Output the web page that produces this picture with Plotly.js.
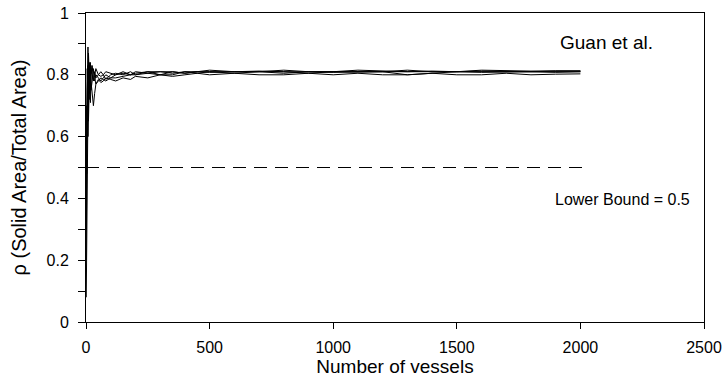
<!DOCTYPE html>
<html>
<head>
<meta charset="utf-8">
<script src="https://cdn.plot.ly/plotly-3.0.1.min.js"></script>
<style>html,body{margin:0;padding:0;background:#fff;}#chart{width:725px;height:379px;}</style>
</head>
<body>
<div id="chart"></div>
<script>
const vessels = [1,3,5,8,10,13,15,18,20,25,30,35,40,50,60,70,80,100,120,150,180,200,250,300,350,400,450,500,600,700,800,900,1000,1100,1200,1300,1400,1500,1600,1700,1800,1900,2000];
const run1 = [0.08,0.35,0.55,0.7,0.85,0.78,0.82,0.76,0.80,0.83,0.79,0.78,0.80,0.79,0.78,0.79,0.80,0.79,0.80,0.805,0.80,0.81,0.805,0.80,0.81,0.805,0.81,0.81,0.805,0.81,0.81,0.805,0.81,0.81,0.81,0.808,0.81,0.81,0.812,0.81,0.81,0.812,0.812];
const run2 = [0.5,0.62,0.7,0.89,0.75,0.72,0.80,0.84,0.78,0.74,0.70,0.74,0.77,0.78,0.79,0.785,0.78,0.79,0.79,0.795,0.80,0.80,0.81,0.80,0.80,0.81,0.805,0.81,0.81,0.81,0.805,0.81,0.808,0.81,0.81,0.80,0.805,0.81,0.808,0.81,0.81,0.808,0.81];
const run3 = [0.2,0.55,0.82,0.6,0.7,0.84,0.76,0.71,0.80,0.82,0.81,0.80,0.82,0.80,0.81,0.80,0.81,0.805,0.80,0.81,0.80,0.805,0.81,0.81,0.805,0.81,0.81,0.815,0.81,0.81,0.815,0.81,0.81,0.815,0.812,0.81,0.812,0.81,0.815,0.813,0.812,0.813,0.813];
const run4 = [0.6,0.48,0.75,0.83,0.65,0.77,0.83,0.79,0.75,0.78,0.82,0.79,0.77,0.785,0.775,0.78,0.79,0.785,0.78,0.79,0.785,0.795,0.79,0.80,0.795,0.80,0.805,0.80,0.805,0.80,0.80,0.805,0.80,0.805,0.80,0.80,0.805,0.80,0.80,0.805,0.80,0.802,0.803];
const run5 = [0.3,0.7,0.64,0.78,0.87,0.80,0.74,0.82,0.83,0.80,0.78,0.81,0.79,0.80,0.795,0.80,0.785,0.80,0.805,0.80,0.81,0.80,0.805,0.81,0.81,0.805,0.81,0.808,0.81,0.812,0.81,0.81,0.812,0.81,0.81,0.815,0.81,0.81,0.81,0.812,0.81,0.81,0.81];
const boundX = [0, 2020];
const boundY = [0.5, 0.5];
const xTicks = [0,500,1000,1500,2000,2500];
const yTicks = [0,0.2,0.4,0.6,0.8,1];

const runs = [run1, run2, run3, run4, run5];
const traces = runs.map(r => ({x: vessels, y: r, type:'scatter', mode:'lines', line:{color:'#000', width:1}, hoverinfo:'skip'}));
traces.push({x: boundX, y: boundY, type:'scatter', mode:'lines', line:{color:'#000', width:1, dash:'13px,8px'}});

const font = {family:'"Liberation Sans", Arial, sans-serif', color:'#000'};
const layout = {
  width:725, height:379,
  margin:{l:86, r:21, t:13, b:57},
  showlegend:false,
  paper_bgcolor:'#fff', plot_bgcolor:'#fff',
  font: Object.assign({size:16}, font),
  xaxis:{range:[0,2500], tickvals:xTicks, ticktext:xTicks.map(String), ticks:'outside', ticklen:6, tickcolor:'#000',
    ticklabelstandoff:5,
    showline:true, linecolor:'#000', linewidth:1, mirror:true, showgrid:false, zeroline:false,
    tickfont:{size:16}, title:{text:'Number of vessels', font:{size:19}, standoff:2}},
  yaxis:{range:[0,1], tickvals:yTicks, ticktext:yTicks.map(String), ticks:'outside', ticklen:7, tickcolor:'#000',
    ticklabelstandoff:6,
    minor:{dtick:0.1, ticks:'outside', ticklen:7, tickcolor:'#000', showgrid:false},
    showline:true, linecolor:'#000', linewidth:1, mirror:true, showgrid:false, zeroline:false,
    tickfont:{size:16}, title:{text:'ρ (Solid Area/Total Area)', font:{size:20}, standoff:14}},
  annotations:[
    {x:2104, y:0.906, xref:'x', yref:'y', text:'Guan et al.', showarrow:false, font:{size:19}},
    {x:2172, y:0.398, xref:'x', yref:'y', text:'Lower Bound = 0.5', showarrow:false, font:{size:16}}
  ]
};
Plotly.newPlot('chart', traces, layout, {staticPlot:true});
</script>
</body>
</html>
